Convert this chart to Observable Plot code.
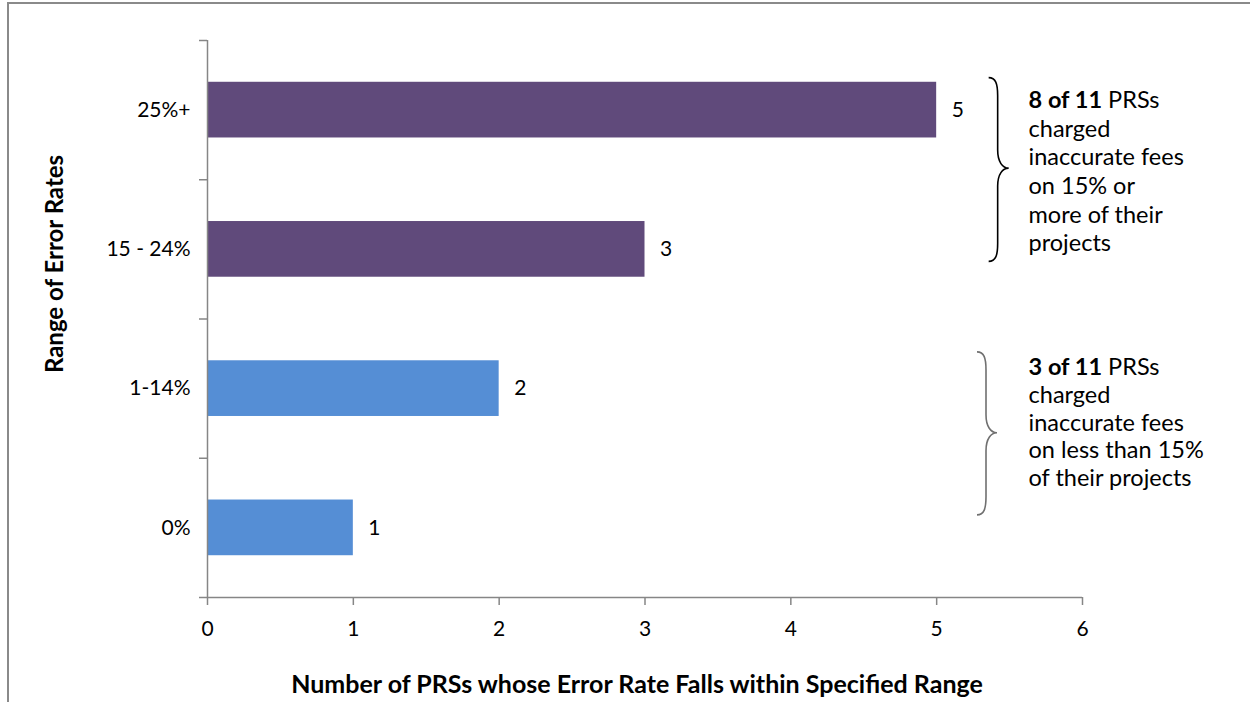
<!DOCTYPE html>
<html><head><meta charset="utf-8">
<script src="https://cdn.jsdelivr.net/npm/d3@7"></script>
<script src="https://cdn.jsdelivr.net/npm/@observablehq/plot@0.6"></script>
<style>
body{margin:0;background:#fff;}
#wrap{position:relative;width:1250px;height:702px;overflow:hidden;background:#fff;}
#frame{position:absolute;left:7px;top:2px;width:1300px;height:800px;border-top:2px solid #8a8a8a;border-left:2px solid #8a8a8a;}
#chart{position:absolute;left:0;top:0;}
</style></head><body><div id="wrap"><div id="frame"></div><div id="chart"></div></div>
<script>
// ---- data ----
const categories = ["25%+", "15 - 24%", "1-14%", "0%"];
const counts = [5, 3, 2, 1];
const groups = ["15% or more", "15% or more", "less than 15%", "less than 15%"];
const xTicks = [0, 1, 2, 3, 4, 5, 6];
const xTitle = "Number of PRSs whose Error Rate Falls within Specified Range";
const yTitle = "Range of Error Rates";
const noteTop = ["8 of 11 PRSs", "charged", "inaccurate fees", "on 15% or", "more of their", "projects"];
const noteBottom = ["3 of 11 PRSs", "charged", "inaccurate fees", "on less than 15%", "of their projects"];
const noteBold = ["8 of 11", "3 of 11"];

const rows = categories.map((c, i) => ({cat: c, n: counts[i], g: groups[i], pos: i + 0.5}));

const axisGray = "#868686";
const plot = Plot.plot({
  width: 1250, height: 702,
  marginLeft: 207, marginRight: 168, marginTop: 40, marginBottom: 105,
  style: {fontFamily: "Lato, sans-serif", fontSize: "21px", color: "#000", background: "transparent", overflow: "visible"},
  x: {domain: [0, 6]},
  y: {domain: [0, 4], reverse: true},
  color: {domain: ["15% or more", "less than 15%"], range: ["#604A7B", "#558ED5"]},
  marks: [
    Plot.rect(rows, {x1: 0, x2: "n", y1: d => d.pos - 0.2, y2: d => d.pos + 0.2, fill: "g"}),
    Plot.ruleX([0], {stroke: axisGray, strokeWidth: 1.5}),
    Plot.ruleY([4], {stroke: axisGray, strokeWidth: 1.5}),
    Plot.axisY({ticks: [0, 1, 2, 3, 4], tickSize: 8, tickFormat: () => "", label: null, stroke: axisGray, strokeWidth: 1.5}),
    Plot.axisY({ticks: rows.map(d => d.pos), tickFormat: v => categories[Math.floor(v)], tickSize: 0, tickPadding: 17, label: null, fill: "#000", fontSize: 21}),
    Plot.axisX({ticks: xTicks, tickFormat: d3.format("d"), tickSize: 8, tickPadding: 16, label: null, stroke: axisGray, fill: "#000", strokeWidth: 1.5, fontSize: 21}),
    Plot.text(rows, {x: "n", y: "pos", text: d => String(d.n), dx: 15, textAnchor: "start", fontSize: 21, fill: "#000"}),
    Plot.text([xTitle], {text: d => d, frameAnchor: "bottom", lineAnchor: "middle", dy: 87, dx: -8, fontWeight: "bold", fontSize: 25, fill: "#000"}),
    Plot.text([yTitle], {text: d => d, frameAnchor: "left", textAnchor: "middle", lineAnchor: "middle", dx: -152, dy: -55, rotate: -90, fontWeight: "bold", fontSize: 24, fill: "#000"}),
    Plot.text([noteTop.join("\n")], {text: d => d, x: 5.63, y: 0.3375, lineAnchor: "top", textAnchor: "start", fontSize: 23.5, lineHeight: 1.22, fill: "#000"}),
    Plot.text([noteBottom.join("\n")], {text: d => d, x: 5.63, y: 2.262, lineAnchor: "top", textAnchor: "start", fontSize: 23.5, lineHeight: 1.18, fill: "#000"})
  ]
});
document.getElementById("chart").appendChild(plot);

// bold prefixes in annotation text
const svg = d3.select(plot);
svg.selectAll("tspan").each(function() {
  const t = d3.select(this);
  const s = t.text();
  for (const b of noteBold) {
    if (s.startsWith(b)) {
      t.text("");
      t.append("tspan").attr("font-weight", "bold").text(b);
      t.append("tspan").text(s.slice(b.length));
    }
  }
});

// braces drawn through the plot's scales
const braces = [
  {x: 5.36, top: 0.27, mid: 0.92, bottom: 1.59, stroke: "#000"},
  {x: 5.28, top: 2.24, mid: 2.82, bottom: 3.41, stroke: "#707070"}
];
const sx = plot.scale("x"), sy = plot.scale("y");
const fx = sx.apply ? (v => sx.apply(v)) : d3.scaleLinear(sx.domain, sx.range);
const fy = sy.apply ? (v => sy.apply(v)) : d3.scaleLinear(sy.domain, sy.range);
for (const b of braces) {
  const x0 = fx(b.x), yT = fy(b.top), yM = fy(b.mid), yB = fy(b.bottom);
  const xm = x0 + 9, xt = x0 + 20;
  const p = `M${x0},${yT} C${xm - 2},${yT} ${xm},${yT + 6} ${xm},${yT + 18} L${xm},${yM - 18} C${xm},${yM - 6} ${xt - 6},${yM} ${xt},${yM} C${xt - 6},${yM} ${xm},${yM + 6} ${xm},${yM + 18} L${xm},${yB - 18} C${xm},${yB - 6} ${xm - 2},${yB} ${x0},${yB}`;
  svg.append("path").attr("d", p).attr("fill", "none").attr("stroke", b.stroke).attr("stroke-width", 1.6);
}
</script></body></html>
